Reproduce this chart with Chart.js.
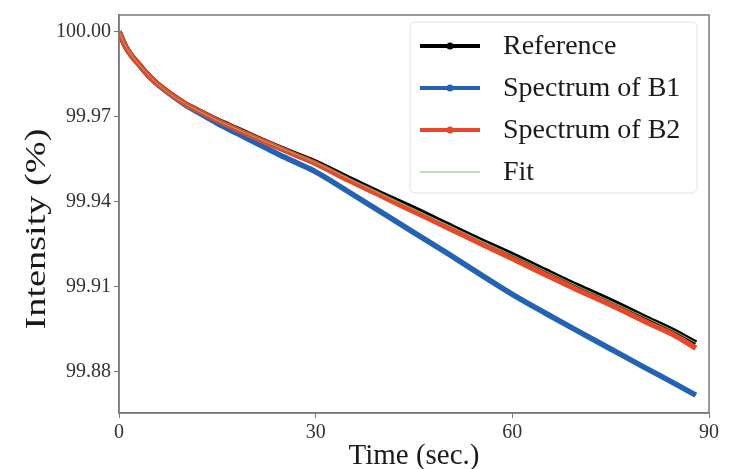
<!DOCTYPE html>
<html>
<head>
<meta charset="utf-8">
<script src="https://cdn.jsdelivr.net/npm/chart.js@4"></script>
<style>
  html, body { margin: 0; padding: 0; background: #fff; }
</style>
</head>
<body>
<canvas id="myChart" width="730" height="469"></canvas>
<script>
// values
const TIME = [0, 1, 2, 3, 4, 5, 6, 8, 10, 12, 15, 18, 21, 24, 27, 30, 35, 40, 45, 50, 55, 60, 65, 70, 75, 80, 85, 88];
const REFERENCE = [100.0000, 99.9948, 99.9913, 99.9886, 99.9858, 99.9834, 99.9813, 99.9778, 99.9747, 99.9723, 99.9688, 99.9657, 99.9626, 99.9596, 99.9567, 99.9539, 99.9483, 99.9428, 99.9376, 99.9320, 99.9265, 99.9213, 99.9157, 99.9102, 99.9050, 99.8994, 99.8939, 99.8901];
const B1 = [100.0000, 99.9948, 99.9913, 99.9886, 99.9858, 99.9834, 99.9812, 99.9776, 99.9743, 99.9716, 99.9677, 99.9641, 99.9606, 99.9571, 99.9538, 99.9505, 99.9435, 99.9363, 99.9291, 99.9219, 99.9145, 99.9073, 99.9007, 99.8943, 99.8880, 99.8817, 99.8755, 99.8717];
const B2 = [100.0000, 99.9948, 99.9913, 99.9886, 99.9858, 99.9834, 99.9813, 99.9778, 99.9747, 99.9722, 99.9687, 99.9655, 99.9624, 99.9594, 99.9564, 99.9535, 99.9476, 99.9421, 99.9365, 99.9310, 99.9254, 99.9199, 99.9143, 99.9088, 99.9036, 99.8980, 99.8925, 99.8883];
const FIT = [100.0000, 99.9950, 99.9914, 99.9886, 99.9859, 99.9835, 99.9813, 99.9777, 99.9747, 99.9722, 99.9687, 99.9656, 99.9625, 99.9596, 99.9567, 99.9538, 99.9482, 99.9427, 99.9374, 99.9320, 99.9265, 99.9212, 99.9157, 99.9102, 99.9049, 99.8995, 99.8940, 99.8902];
const LABELS = ["Reference", "Spectrum of B1", "Spectrum of B2", "Fit"];
const Y_TICKS = [99.88, 99.91, 99.94, 99.97, 100.00];
const X_TICKS = [0, 30, 60, 90];
const X_TITLE = "Time (sec.)";
const Y_TITLE = "Intensity (%)";

const COLORS = ["#000000", "#2462b4", "#e8472c", "#6cc46c"];
const SERIF = "'Liberation Serif', 'DejaVu Serif', serif";

const pts = arr => arr.map((v, i) => ({ x: TIME[i], y: v }));

function series(i, arr, width, order) {
  return {
    label: LABELS[i],
    data: pts(arr),
    borderColor: COLORS[i],
    backgroundColor: COLORS[i],
    borderWidth: width,
    pointRadius: 0,
    cubicInterpolationMode: "monotone",
    order: order
  };
}

// box round the plot, the stretched y title and the legend inside the plot
const frameAndLegend = {
  id: "frameAndLegend",
  afterDraw(chart) {
    const ctx = chart.ctx;
    const a = chart.chartArea;
    ctx.save();
    ctx.strokeStyle = "#7a7a7a";
    ctx.lineWidth = 1.5;
    ctx.strokeRect(a.left, a.top, a.right - a.left, a.bottom - a.top);

    // y title, the source figure has it stretched along its length
    ctx.save();
    ctx.translate(37, 229);
    ctx.rotate(-Math.PI / 2);
    ctx.scale(1.32, 1);
    ctx.font = "29px " + SERIF;
    ctx.fillStyle = "#1a1a1a";
    ctx.textAlign = "center";
    ctx.textBaseline = "middle";
    ctx.fillText(Y_TITLE, 0, 0);
    ctx.restore();

    // legend box
    const bx = 410, by = 22, bw = 287, bh = 171;
    ctx.beginPath();
    ctx.roundRect(bx, by, bw, bh, 5);
    ctx.fillStyle = "rgba(255,255,255,0.85)";
    ctx.fill();
    ctx.strokeStyle = "#e2e2e2";
    ctx.lineWidth = 1;
    ctx.stroke();

    ctx.font = "28px " + SERIF;
    ctx.textBaseline = "middle";
    chart.data.datasets.forEach((ds, i) => {
      const y = 46 + i * 42;
      ctx.strokeStyle = ds.borderColor;
      ctx.lineWidth = i < 3 ? 4 : 1;
      ctx.beginPath();
      ctx.moveTo(420, y);
      ctx.lineTo(480, y);
      ctx.stroke();
      if (i < 3) {
        ctx.fillStyle = ds.borderColor;
        ctx.beginPath();
        ctx.arc(450, y, 3.5, 0, Math.PI * 2);
        ctx.fill();
      }
      ctx.fillStyle = "#1a1a1a";
      ctx.fillText(ds.label, 503, y + 1);
    });
    ctx.restore();
  }
};

new Chart(document.getElementById("myChart"), {
  type: "line",
  data: {
    datasets: [
      series(0, REFERENCE, 5.5, 4),
      series(1, B1, 5.5, 3),
      series(2, B2, 5.5, 2),
      series(3, FIT, 1, 1)
    ]
  },
  options: {
    responsive: false,
    animation: false,
    layout: { padding: { top: 8, right: 21, left: 0, bottom: 0 } },
    plugins: {
      legend: { display: false },
      tooltip: { enabled: false }
    },
    scales: {
      x: {
        type: "linear",
        min: 0,
        max: 90,
        afterBuildTicks: s => { s.ticks = X_TICKS.map(v => ({ value: v })); },
        afterFit: s => { s.height = 56; },
        grid: { drawOnChartArea: false, tickLength: 5, color: "#7a7a7a" },
        border: { color: "#7a7a7a", width: 1.5 },
        ticks: { font: { family: SERIF, size: 20 }, color: "#333", padding: 3, maxRotation: 0 },
        title: {
          display: true,
          text: X_TITLE,
          font: { family: SERIF, size: 29, lineHeight: 1 },
          color: "#1a1a1a",
          padding: { top: 0, bottom: -2 }
        }
      },
      y: {
        min: 99.8654,
        max: 100.0059,
        afterBuildTicks: s => { s.ticks = Y_TICKS.map(v => ({ value: v })); },
        afterFit: s => { s.width = 119; },
        grid: { drawOnChartArea: false, tickLength: 5, color: "#7a7a7a" },
        border: { color: "#7a7a7a", width: 1.5 },
        ticks: {
          font: { family: SERIF, size: 20 },
          color: "#333",
          padding: 3,
          callback: v => Number(v).toFixed(2)
        }
      }
    }
  },
  plugins: [frameAndLegend]
});
</script>
</body>
</html>
